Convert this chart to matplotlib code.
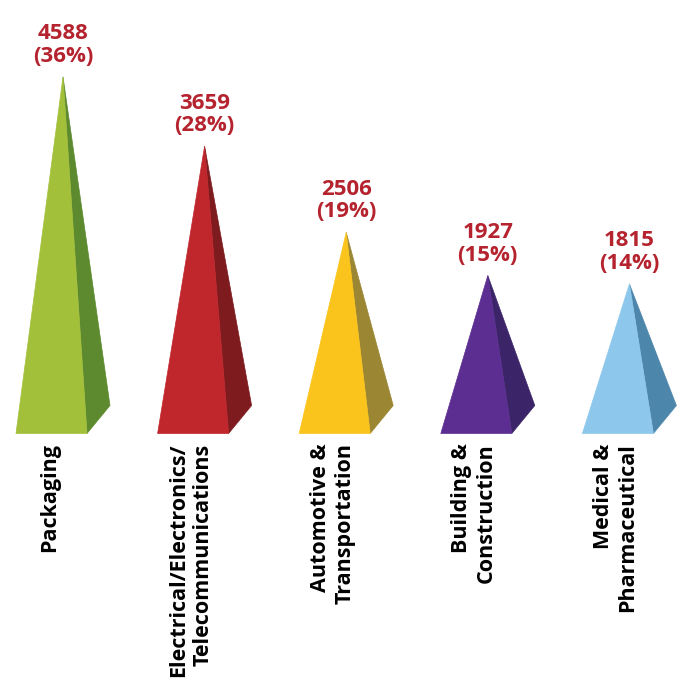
import numpy as np
import matplotlib.pyplot as plt
from matplotlib.patches import Polygon

categories = ["Packaging", "Electrical/Electronics/\nTelecommunications",
              "Automotive &\nTransportation", "Building &\nConstruction",
              "Medical &\nPharmaceutical"]
values = [4588, 3659, 2506, 1927, 1815]
shares = [36, 28, 19, 15, 14]
front_colors = ["#a3c03b", "#c0272d", "#fbc41d", "#5c2e91", "#8dc8ec"]
side_colors = ["#5e8a2f", "#7d1b1f", "#9b8634", "#3b2568", "#4c86aa"]

plt.rcParams['font.family'] = ['Open Sans', 'DejaVu Sans']

fig = plt.figure(figsize=(6.88, 6.80), dpi=100)
ax = fig.add_axes([0, 0, 1, 1])

# axis scale: 1 category = 141.6 px, 1 px = 13.39 units
px_x = 1 / 141.6
px_y = 13.39
ax.set_xlim(-51.5 * px_x, (688 - 51.5) * px_x)
ax.set_ylim(-(680 - 419.5) * px_y, 419.5 * px_y)
ax.axis("off")

w = 35.5 * px_x       # half width of front face
dx = 23 * px_x        # depth offset
dy = 28 * px_y

for i, v in enumerate(values):
    base = -dy / 2
    apex = (i + dx / 2, v)
    front = Polygon([(i - w, base), (i + w, base), apex], closed=True,
                    facecolor=front_colors[i], edgecolor=front_colors[i], lw=0.5)
    side = Polygon([(i + w, base), (i + w + dx, base + dy), apex], closed=True,
                   facecolor=side_colors[i], edgecolor=side_colors[i], lw=0.5)
    ax.add_patch(side)
    ax.add_patch(front)
    ax.annotate(f"{v}\n({shares[i]}%)", xy=apex, xytext=(0, 10),
                textcoords="offset pixels", ha="center", va="bottom",
                fontsize=16, fontweight="bold", color="#b5232f",
                linespacing=1.1)
    ax.text(i - 0.015, base - 10 * px_y, categories[i], rotation=90,
            ha="center", va="top", multialignment="right",
            fontsize=15.5, fontweight="bold", color="black", linespacing=1.22)

fig.savefig("out.png", dpi=100)
